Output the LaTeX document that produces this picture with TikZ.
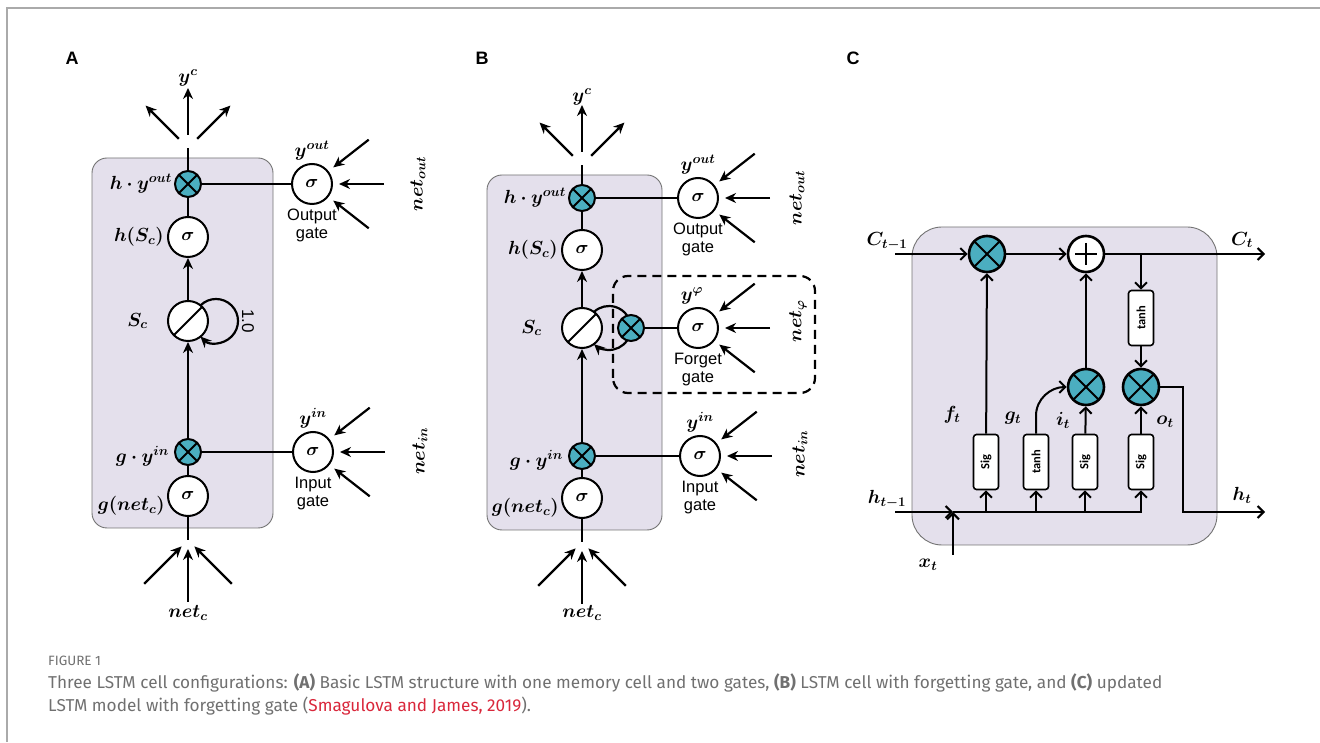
\documentclass[tikz,border=0pt]{standalone}
\usepackage{fix-cm}
\usepackage{amsmath,bm}
\usepackage{fontspec}
\usepackage{graphicx}
\setsansfont{Liberation Sans}
\newfontfamily\capfont{Fira Sans}
\newfontfamily\boxfont{Carlito}
\usetikzlibrary{arrows.meta,positioning,calc}
\definecolor{cellfill}{HTML}{E4E0EC}
\definecolor{mulfill}{HTML}{4BAEC0}
\definecolor{capgray}{HTML}{707070}
\definecolor{capred}{HTML}{D9273B}
\definecolor{framegray}{HTML}{AAAAAA}

\begin{document}
\begin{tikzpicture}[x=1pt, y=1pt,
  cell/.style={draw=black!55, line width=0.9pt, fill=cellfill, rounded corners=#1},
  cell/.default=15pt,
  gate/.style={circle, draw, line width=2pt, fill=white, minimum size=#1,
               inner sep=0pt, font=\fontsize{18}{20}\selectfont},
  gate/.default=40pt,
  mul/.style={gate=#1, fill=mulfill,
    path picture={\draw[line width=2pt]
      (path picture bounding box.north west) -- (path picture bounding box.south east)
      (path picture bounding box.south west) -- (path picture bounding box.north east);}},
  mul/.default=26pt,
  memo/.style={gate, path picture={\draw[line width=2pt]
      (path picture bounding box.south west) -- (path picture bounding box.north east);}},
  sum/.style={gate=36pt, path picture={\draw[line width=2.4pt]
      ($(path picture bounding box.center)+(0,11)$) -- ($(path picture bounding box.center)+(0,-11)$)
      ($(path picture bounding box.center)+(-11,0)$) -- ($(path picture bounding box.center)+(11,0)$);}},
  big/.style={line width=2.6pt},
  act/.style={draw, line width=1.6pt, fill=white, rounded corners=3pt, minimum width=25pt,
              minimum height=55pt, inner sep=0pt, font=\boxfont\bfseries\fontsize{12.5}{13}\selectfont},
  lbl/.style={font=\fontsize{19}{21}\selectfont, inner sep=1pt},
  gtxt/.style={font=\sffamily\fontsize{16.5}{18}\selectfont, align=center, inner sep=0pt},
  panel/.style={font=\sffamily\bfseries\fontsize{18}{20}\selectfont},
  ln/.style={line width=2.2pt},
  arr/.style={-{Stealth[length=11pt,width=10pt]}, line width=2.2pt},
  carr/.style={-{Straight Barb[length=6pt,width=12pt]}, line width=2pt},
  capt/.style={text=capgray, inner sep=0pt, font=\capfont\fontsize{17.2}{19}\selectfont}]

\useasboundingbox (0,0) rectangle (1320,742);
\draw[framegray, line width=1.2pt] (7,0) -- (7,734) -- (1320,734);

% ---------------- A: basic cell
\node[panel] (labA) at (72,684) {A};
\draw[cell] (92,214) rectangle (273,584);
\node[mul] (Ahout) at (188,558) {};
\node[gate] (Ahs) at (188,505) {$\bm\sigma$};
\node[memo] (ASc) at (188,421) {};
\node[mul] (Agin) at (188,290) {};
\node[gate] (Agnet) at (188,246) {$\bm\sigma$};
\node[gate] (Aout) at (312,558) {$\bm\sigma$};
\node[gate] (Ain) at (313,290) {$\bm\sigma$};
\coordinate (Abot) at (188,202);
\coordinate (Atop) at (188,594);
\coordinate (Aloop) at ($(ASc)+(28,0)$);

\node[lbl, left=1pt of Ahout] (Lhout) {$\bm{h\cdot y^{out}}$};
\node[lbl, left=2pt of Ahs] (Lhs) {$\bm{h(S_c)}$};
\node[lbl, left=18pt of ASc] (LSc) {$\bm{S_c}$};
\node[lbl, left=4pt of Agin, yshift=-4pt] (Lgin) {$\bm{g\cdot y^{in}}$};
\node[lbl, left=1pt of Agnet, yshift=-10pt] (Lgnet) {$\bm{g(net_c)}$};
\node[lbl, above=2pt of Aout] (Lyout) {$\bm{y^{out}}$};
\node[gtxt, below=4pt of Aout] (Gout) {Output\\gate};
\node[lbl, above=2pt of Ain] (Lyin) {$\bm{y^{in}}$};
\node[gtxt, below=4pt of Ain] (Gin) {Input\\gate};
\node[lbl, rotate=90] (Lnout) at (418,558) {$\bm{net_{out}}$};
\node[lbl, rotate=90] (Lnin) at (420,291) {$\bm{net_{in}}$};
\node[lbl] (Lnc) at (188,129) {$\bm{net_c}$};
\node[lbl] (Lyc) at (188,664) {$\bm{y^c}$};
\node[font=\sffamily\fontsize{17}{17}\selectfont, rotate=-90] (Aone) at ($(Aloop)+(32,0)$) {1.0};

\draw[ln] (Abot) -- (Agnet);
\draw[ln] (Agnet) -- (Agin);
\draw[arr] (Agin) -- (ASc);
\draw[arr] (ASc) -- (Ahs);
\draw[ln] (Ahs) -- (Ahout);
\draw[ln] (Ahout) -- (Atop);
\draw[ln] (Agin) -- (Ain);
\draw[ln] (Ahout) -- (Aout);
\draw[arr] ($(Aloop)+(135:22)$) arc[start angle=135, end angle=-135, radius=22];
\foreach \a in {-38,0,38} {
  \draw[arr] ($(Aout)+(\a:72)$) -- ($(Aout)+(\a:27)$);
  \draw[arr] ($(Ain)+(\a:72)$) -- ($(Ain)+(\a:27)$);
}
\foreach \a in {45,90,135}
  \draw[arr] ($(Atop)+(\a:13)$) -- ($(Atop)+(\a:60)$);
\foreach \a in {225,270,315}
  \draw[arr] ($(Abot)+(\a:62)$) -- ($(Abot)+(\a:9)$);

% ---------------- B: cell with forget gate
\node[panel] (labB) at (482,684) {B};
\draw[cell] (487,212) rectangle (662,567);
\draw[ln, dash pattern=on 9pt off 6pt, rounded corners=15pt] (613,349) rectangle (815,466);
\node[mul] (Bhout) at (582,544) {};
\node[gate] (Bhs) at (582,492) {$\bm\sigma$};
\node[memo] (BSc) at (582,414) {};
\coordinate (Bloop) at ($(BSc)+(27,0)$);
\node[mul] (Bfmul) at ($(Bloop)+(22,0)$) {};
\node[gate] (Bfg) at (698,414) {$\bm\sigma$};
\node[mul] (Bgin) at (582,286) {};
\node[gate] (Bgnet) at (582,244) {$\bm\sigma$};
\node[gate] (Bout) at (698,544) {$\bm\sigma$};
\node[gate] (Bin) at (700,286) {$\bm\sigma$};
\coordinate (Bbot) at (582,200);
\coordinate (Btop) at (582,577);

\node[lbl, left=1pt of Bhout] (Mhout) {$\bm{h\cdot y^{out}}$};
\node[lbl, left=2pt of Bhs] (Mhs) {$\bm{h(S_c)}$};
\node[lbl, left=18pt of BSc] (MSc) {$\bm{S_c}$};
\node[lbl, left=4pt of Bgin, yshift=-4pt] (Mgin) {$\bm{g\cdot y^{in}}$};
\node[lbl, left=1pt of Bgnet, yshift=-10pt] (Mgnet) {$\bm{g(net_c)}$};
\node[lbl, above=2pt of Bout] (Myout) {$\bm{y^{out}}$};
\node[gtxt, below=4pt of Bout] (Hout) {Output\\gate};
\node[lbl, above=2pt of Bfg, xshift=-6pt] (Myphi) {$\bm{y^{\varphi}}$};
\node[gtxt, below=4pt of Bfg] (Hfg) {Forget\\gate};
\node[lbl, above=2pt of Bin] (Myin) {$\bm{y^{in}}$};
\node[gtxt, below=4pt of Bin] (Hin) {Input\\gate};
\node[lbl, rotate=90] (Mnout) at (797,544) {$\bm{net_{out}}$};
\node[lbl, rotate=90] (Mnphi) at (798,421) {$\bm{net_{\varphi}}$};
\node[lbl, rotate=90] (Mnin) at (800,288) {$\bm{net_{in}}$};
\node[lbl] (Mnc) at (582,129) {$\bm{net_c}$};
\node[lbl] (Myc) at (582,645) {$\bm{y^c}$};

\draw[ln] (Bbot) -- (Bgnet);
\draw[ln] (Bgnet) -- (Bgin);
\draw[arr] (Bgin) -- (BSc);
\draw[arr] (BSc) -- (Bhs);
\draw[ln] (Bhs) -- (Bhout);
\draw[ln] (Bhout) -- (Btop);
\draw[ln] (Bgin) -- (Bin);
\draw[ln] (Bhout) -- (Bout);
\draw[ln] (Bfmul) -- (Bfg);
\draw[ln] ($(Bloop)+(133:22)$) arc[start angle=133, end angle=34, radius=22];
\draw[arr] ($(Bloop)+(-34:22)$) arc[start angle=-34, end angle=-133, radius=22];
\foreach \a in {-38,0,38} {
  \draw[arr] ($(Bout)+(\a:72)$) -- ($(Bout)+(\a:27)$);
  \draw[arr] ($(Bfg)+(\a:72)$) -- ($(Bfg)+(\a:27)$);
  \draw[arr] ($(Bin)+(\a:72)$) -- ($(Bin)+(\a:27)$);
}
\foreach \a in {45,90,135}
  \draw[arr] ($(Btop)+(\a:13)$) -- ($(Btop)+(\a:60)$);
\foreach \a in {225,270,315}
  \draw[arr] ($(Bbot)+(\a:62)$) -- ($(Bbot)+(\a:9)$);

% ---------------- C: updated model
\node[panel] (labC) at (853,684) {C};
\draw[cell=30pt] (912,197) rectangle (1217,515);
\node[mul=36pt, big] (Cmf) at (987,488) {};
\node[sum, big] (Cadd) at (1086,488) {};
\node[act] (Ctc) at (1141,424) {\rotatebox{90}{tanh}};
\node[mul=36pt, big] (Cmi) at (1086,355) {};
\node[mul=36pt, big] (Cmo) at (1141,355) {};
\node[act] (Csf) at (986,280) {\rotatebox{90}{Sig}};
\node[act] (Csg) at (1036,280) {\rotatebox{90}{tanh}};
\node[act] (Csi) at (1085,280) {\rotatebox{90}{Sig}};
\node[act] (Cso) at (1141,280) {\rotatebox{90}{Sig}};
\coordinate (Ccin) at (895,488);
\coordinate (Ccout) at (1265,488);
\coordinate (Chin) at (895,230);
\coordinate (Cxin) at (953,187);
\coordinate (Cxj) at (953,230);
\coordinate (Chk) at (1183,355);
\coordinate (Chend) at (1265,230);

\node[lbl] (Lct1) at (887,501) {$\bm{C_{t-1}}$};
\node[lbl] (Lct) at (1242,502) {$\bm{C_t}$};
\node[lbl] (Lht1) at (887,243) {$\bm{h_{t-1}}$};
\node[lbl] (Lht) at (1242,247) {$\bm{h_t}$};
\node[lbl] (Lxt) at (928,177) {$\bm{x_t}$};
\node[lbl] (Lft) at (952,327) {$\bm{f_t}$};
\node[lbl] (Lgt) at (1013,324) {$\bm{g_t}$};
\node[lbl] (Lit) at (1063,322) {$\bm{i_t}$};
\node[lbl] (Lot) at (1165,320) {$\bm{o_t}$};

\draw[carr] (Ccin) -- (Cmf);
\draw[carr] (Cmf) -- (Cadd);
\draw[carr] (Cadd) -- (Ccout);
\draw[carr] (Ctc |- Ccout) -- (Ctc);
\draw[carr] (Ctc) -- (Cmo);
\draw[carr] (Chin) -- (Cxj);
\draw[carr] (Cxin) -- (Cxj);
\draw[carr] (Cxj) -| (Cso);
\foreach \b in {Csf,Csg,Csi}
  \draw[carr] (\b |- Cxj) -- (\b);
\draw[carr] (Csf) -- (Cmf);
\draw[carr] (Csg.north) -- ++(0,18) to[out=90, in=180] (Cmi);
\draw[carr] (Csi) -- (Cmi);
\draw[carr] (Cmi) -- (Cadd);
\draw[carr] (Cso) -- (Cmo);
\draw[carr] (Cmo) -- (Chk) |- (Chend);

% ---------------- caption
\node[capt, font=\capfont\fontsize{13.5}{14}\selectfont, anchor=base west] (figno) at (48,77) {FIGURE 1};
\node[capt, anchor=base west] (cap1) at (48,54) {Three LSTM cell configurations: \textbf{(A)} Basic LSTM structure with one memory cell and two gates, \textbf{(B)} LSTM cell with forgetting gate, and \textbf{(C)} updated};
\node[capt, anchor=base west] (cap2) at (48,31) {LSTM model with forgetting gate ({\color{capred}Smagulova and James, 2019}).};
\end{tikzpicture}
\end{document}
